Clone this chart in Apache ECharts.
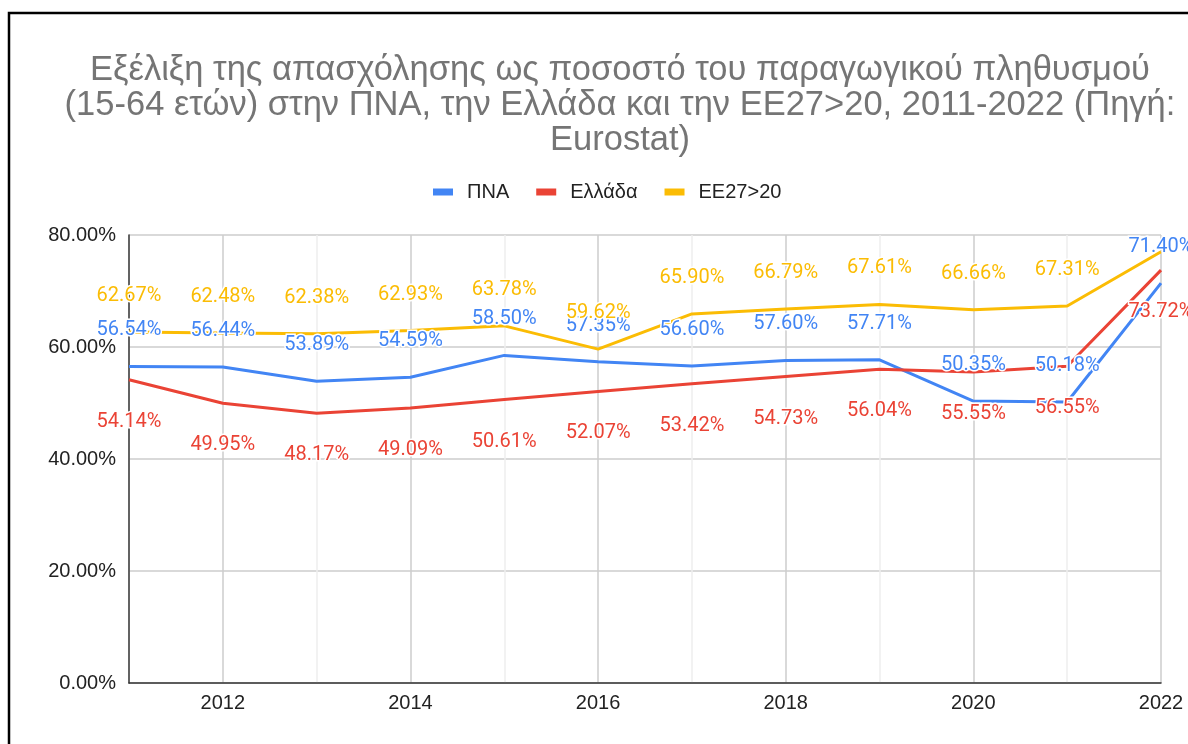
<!DOCTYPE html>
<html>
<head>
<meta charset="utf-8">
<script src="https://cdn.jsdelivr.net/npm/echarts@6/dist/echarts.min.js"></script>
<style>
  html, body { margin: 0; padding: 0; background: #fff; overflow: hidden; }
  #chart { width: 1240px; height: 744px; }
</style>
</head>
<body>
<div id="chart"></div>
<script>
// data
const years = ['2011', '2012', '2013', '2014', '2015', '2016', '2017', '2018', '2019', '2020', '2021', '2022'];
const pna = [56.54, 56.44, 53.89, 54.59, 58.50, 57.35, 56.60, 57.60, 57.71, 50.35, 50.18, 71.40];
const greece = [54.14, 49.95, 48.17, 49.09, 50.61, 52.07, 53.42, 54.73, 56.04, 55.55, 56.55, 73.72];
const eu = [62.67, 62.48, 62.38, 62.93, 63.78, 59.62, 65.90, 66.79, 67.61, 66.66, 67.31, 77.0];
const hiddenLabelEu = [11]; // last EU label not shown in the reference

const titleText = 'Εξέλιξη της απασχόλησης ως ποσοστό του παραγωγικού πληθυσμού\n(15-64 ετών) στην ΠΝΑ, την Ελλάδα και την ΕΕ27>20, 2011-2022 (Πηγή:\nEurostat)';

const blue = '#4285F4';
const red = '#EA4335';
const yellow = '#FBBC04';

const chart = echarts.init(document.getElementById('chart'));

const pct = (v) => Number(v).toFixed(2) + '%';

function lineSeries(name, data, color, pos, dist, hidden) {
  return {
    name,
    type: 'line',
    data: data.map((v, i) => (hidden && hidden.includes(i) ? { value: v, label: { show: false } } : v)),
    symbol: 'circle',
    symbolSize: 0,
    showSymbol: true,
    lineStyle: { color, width: 3 },
    itemStyle: { color },
    label: {
      show: true,
      position: pos,
      distance: dist,
      formatter: (p) => pct(p.value),
      color,
      fontFamily: 'Roboto',
      fontSize: 20,
      textBorderColor: '#fff',
      textBorderWidth: 3,
    },
    emphasis: { disabled: true },
    animation: false,
  };
}

chart.setOption({
  backgroundColor: '#fff',
  animation: false,
  title: {
    text: titleText,
    left: 'center',
    top: 48,
    textStyle: {
      color: '#757575',
      fontFamily: 'Liberation Sans, Arial',
      fontWeight: 'normal',
      fontSize: 34.5,
      lineHeight: 35,
    },
  },
  legend: {
    left: 428,
    top: 177,
    icon: 'rect',
    itemWidth: 20,
    itemHeight: 7,
    itemGap: 27,
    textStyle: {
      color: '#222',
      fontFamily: 'Liberation Sans, Arial',
      fontSize: 20,
      padding: [0, 0, 0, 9],
    },
    data: ['ΠΝΑ', 'Ελλάδα', 'ΕΕ27>20'],
  },
  graphic: [
    {
      type: 'rect',
      shape: { x: 9, y: 13, width: 1300, height: 900 },
      style: { fill: 'none', stroke: '#000', lineWidth: 2.5 },
      silent: true,
    },
  ],
  grid: { left: 129, right: 79, top: 235, bottom: 61 },
  xAxis: {
    type: 'category',
    data: years,
    boundaryGap: false,
    axisTick: { show: false },
    axisLine: { lineStyle: { color: '#333', width: 1.5 } },
    axisLabel: {
      interval: (i) => i % 2 === 1,
      color: '#222',
      fontFamily: 'Liberation Sans, Arial',
      fontSize: 20,
      margin: 10,
    },
    splitLine: {
      show: true,
      interval: 0,
      lineStyle: { color: ['#eeeeee', '#cccccc'], width: 1.5 },
    },
  },
  yAxis: {
    type: 'value',
    min: 0,
    max: 80,
    interval: 20,
    axisLine: { show: true, lineStyle: { color: '#333', width: 1.5 } },
    axisTick: { show: false },
    axisLabel: {
      formatter: (v) => pct(v),
      color: '#222',
      fontFamily: 'Liberation Sans, Arial',
      fontSize: 20,
      margin: 13,
    },
    splitLine: { lineStyle: { color: '#cccccc', width: 1.5 } },
  },
  series: [
    lineSeries('ΠΝΑ', pna, blue, 'top', 26),
    lineSeries('Ελλάδα', greece, red, 'bottom', 32),
    lineSeries('ΕΕ27>20', eu, yellow, 'top', 26, hiddenLabelEu),
  ],
});
</script>
</body>
</html>
